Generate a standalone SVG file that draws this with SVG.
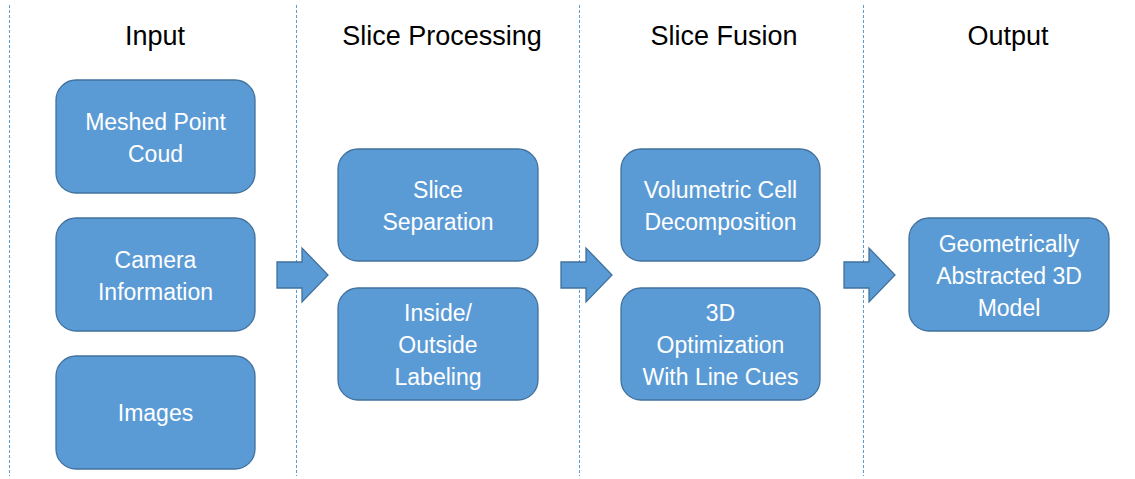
<svg xmlns="http://www.w3.org/2000/svg" width="1135" height="479" viewBox="0 0 1135 479">
<style>
.sep{stroke:#5B9BD5;stroke-width:1;stroke-dasharray:3,2;fill:none}
.box{fill:#5B9BD5;stroke:#41719C;stroke-width:1.3}
.arr{fill:#5B9BD5;stroke:#41719C;stroke-width:1.3;stroke-linejoin:miter}
.hd{font-family:"Liberation Sans",Arial,sans-serif;font-size:27px;fill:#000;text-anchor:middle}
.lb{font-family:"Liberation Sans",Arial,sans-serif;font-size:23px;fill:#fff;text-anchor:middle}
</style>
<rect width="1135" height="479" fill="#fff"/>
<g id="separators">
<line class="sep" x1="9.5" y1="5" x2="9.5" y2="476"/>
<line class="sep" x1="296.5" y1="5" x2="296.5" y2="476"/>
<line class="sep" x1="579.5" y1="5" x2="579.5" y2="476"/>
<line class="sep" x1="863.5" y1="5" x2="863.5" y2="476"/>
</g>
<g id="headers">
<text class="hd" x="155" y="45">Input</text>
<text class="hd" x="442" y="45">Slice Processing</text>
<text class="hd" x="724" y="45">Slice Fusion</text>
<text class="hd" x="1008" y="45">Output</text>
</g>
<g id="n-meshed"><rect class="box" x="56" y="80" width="199" height="113" rx="20"/><text class="lb" x="155.5" y="130">Meshed Point</text><text class="lb" x="155.5" y="162">Coud</text></g>
<g id="n-camera"><rect class="box" x="56" y="218" width="199" height="113" rx="20"/><text class="lb" x="155.5" y="268">Camera</text><text class="lb" x="155.5" y="300">Information</text></g>
<g id="n-images"><rect class="box" x="56" y="356" width="199" height="113" rx="20"/><text class="lb" x="155.5" y="421">Images</text></g>
<g id="n-slicesep"><rect class="box" x="338" y="149" width="200" height="112" rx="20"/><text class="lb" x="438" y="198">Slice</text><text class="lb" x="438" y="230">Separation</text></g>
<g id="n-inout"><rect class="box" x="338" y="288" width="200" height="112" rx="20"/><text class="lb" x="438" y="321">Inside/</text><text class="lb" x="438" y="353">Outside</text><text class="lb" x="438" y="385">Labeling</text></g>
<g id="n-volumetric"><rect class="box" x="621" y="149" width="199" height="112" rx="20"/><text class="lb" x="720.5" y="198">Volumetric Cell</text><text class="lb" x="720.5" y="230">Decomposition</text></g>
<g id="n-optim"><rect class="box" x="621" y="288" width="199" height="112" rx="20"/><text class="lb" x="720.5" y="321">3D</text><text class="lb" x="720.5" y="353">Optimization</text><text class="lb" x="720.5" y="385">With Line Cues</text></g>
<g id="n-output"><rect class="box" x="909" y="218" width="200" height="113" rx="20"/><text class="lb" x="1009" y="252">Geometrically</text><text class="lb" x="1009" y="284">Abstracted 3D</text><text class="lb" x="1009" y="316">Model</text></g>
<g id="connectors">
<polygon class="arr" points="277,262 302,262 302,248 328,275 302,302 302,288 277,288"/>
<polygon class="arr" points="561,262 586,262 586,248 612,275 586,302 586,288 561,288"/>
<polygon class="arr" points="844,262 869,262 869,248 895,275 869,302 869,288 844,288"/>
</g>
</svg>
